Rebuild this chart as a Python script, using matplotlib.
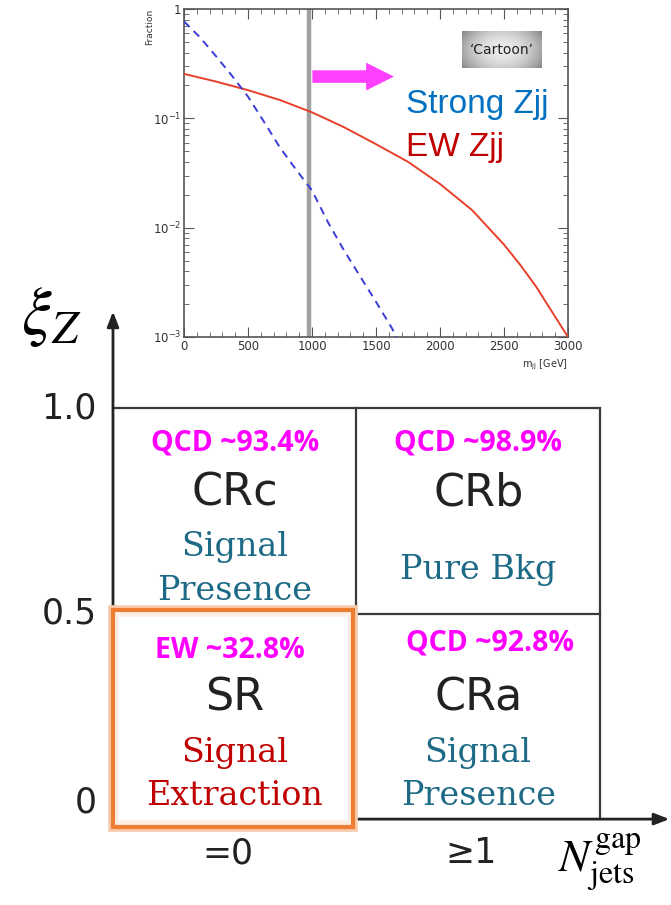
import numpy as np
import matplotlib
matplotlib.use("Agg")
import matplotlib.pyplot as plt
from matplotlib.patches import Rectangle

# inset "cartoon": fraction vs m_jj
m_ew = [0, 250, 500, 750, 1000, 1250, 1500, 1750, 2000, 2250, 2500, 2625, 2750, 2875, 3000]
frac_ew = [0.255, 0.217, 0.181, 0.147, 0.1135, 0.083, 0.058, 0.040, 0.0251, 0.0145, 0.0070,
           0.0046, 0.0029, 0.0017, 0.001]
m_qcd = [0, 125, 250, 375, 500, 625, 750, 875, 1000, 1125, 1250, 1375, 1500, 1625, 1660]
frac_qcd = [0.77, 0.55, 0.37, 0.245, 0.158, 0.093, 0.054, 0.034, 0.0219, 0.0112, 0.0062, 0.0036,
            0.0021, 0.0012, 0.001]
mjj_cut = 978
x_ticks = [0, 500, 1000, 1500, 2000, 2500, 3000]
y_ticks = [1e-3, 1e-2, 1e-1, 1]
y_tick_labels = [r'$\mathregular{10^{-3}}$', r'$\mathregular{10^{-2}}$', r'$\mathregular{10^{-1}}$', '1']

# region diagram
xi_ticks = [0, 0.5, 1.0]
xi_tick_labels = ['0', '0.5', '1.0']
ngap_labels = ['=0', '\u22651']
regions = ['CRc', 'CRb', 'SR', 'CRa']
region_cells = [(0, 0.5), (1, 0.5), (0, 0), (1, 0)]
fractions = ['QCD ~93.4%', 'QCD ~98.9%', 'EW ~32.8%', 'QCD ~92.8%']
roles = [['Signal', 'Presence'], ['Pure Bkg'], ['Signal', 'Extraction'], ['Signal', 'Presence']]

teal = '#1d6a86'
dark_red = '#c00000'
magenta = '#ff00ff'
line_col = '#3a3a3a'

fig = plt.figure(figsize=(6.71, 9.05), dpi=100)

# ---- main diagram ----
ax = fig.add_axes([0, 0, 1, 1])
ax.set_xlim(-0.464, 2.2916)
ax.set_ylim(-0.209, 1.993)
ax.axis('off')

# axes arrows
ax.annotate('', xy=(0, 1.235), xytext=(0, -0.005),
            arrowprops=dict(arrowstyle='-|>,head_length=0.9,head_width=0.35', color='#222222', lw=2,
                            shrinkA=0, shrinkB=0), zorder=2)
ax.annotate('', xy=(2.285, 0), xytext=(0, 0),
            arrowprops=dict(arrowstyle='-|>,head_length=0.9,head_width=0.35', color='#222222', lw=2,
                            shrinkA=0, shrinkB=0), zorder=2)

# grid of regions
ax.plot([0, 2], [1, 1], color=line_col, lw=1.6, zorder=1)
ax.plot([0, 2], [0.5, 0.5], color=line_col, lw=1.6, zorder=1)
ax.plot([1, 1], [0, 1], color=line_col, lw=1.6, zorder=1)
ax.plot([2, 2], [0, 1], color=line_col, lw=1.6, zorder=1)

# highlight box around SR
ax.add_patch(Rectangle((0, -0.019), 0.986, 0.528, facecolor='white', edgecolor='#f8cbad', lw=7, zorder=3))
ax.add_patch(Rectangle((0.01, -0.01), 0.966, 0.51, facecolor='none', edgecolor='#fdeee4', lw=4, zorder=3))
ax.add_patch(Rectangle((0, -0.019), 0.986, 0.528, facecolor='none', edgecolor='#ed7d31', lw=3, zorder=3))

# region texts
frac_dx = [0.0, 0.0, -0.02, 0.05]
frac_dy = [0.415, 0.415, 0.411, 0.428]
for i, name in enumerate(regions):
    cx, cy = region_cells[i]
    z = 4 if name == 'SR' else 2
    ax.text(cx + 0.5 + frac_dx[i], cy + frac_dy[i], fractions[i], color=magenta, fontsize=20.5,
            family='Open Sans', weight='bold', ha='center', va='center', zorder=z)
    ax.text(cx + 0.5, cy + 0.294, name, color='#222222', fontsize=32, family='DejaVu Sans',
            ha='center', va='center', zorder=z)
    col = dark_red if name == 'SR' else teal
    if len(roles[i]) == 1:
        ax.text(cx + 0.5, cy + 0.106, roles[i][0], color=col, fontsize=24, family='DejaVu Serif',
                ha='center', va='center', zorder=z)
    else:
        ax.text(cx + 0.5, cy + 0.162, roles[i][0], color=col, fontsize=24, family='DejaVu Serif',
                ha='center', va='center', zorder=z)
        ax.text(cx + 0.5, cy + 0.056, roles[i][1], color=col, fontsize=24, family='DejaVu Serif',
                ha='center', va='center', zorder=z)

# tick labels
for v, lab in zip(xi_ticks, xi_tick_labels):
    yy = 0.04 if v == 0 else v
    ax.text(-0.068, yy, lab, fontsize=25, color='#222222', ha='right', va='center', zorder=2)
for j, lab in enumerate(ngap_labels):
    ax.text(j + 0.47, -0.083, lab, fontsize=25, color='#222222', ha='center', va='center', zorder=2)

ax.text(-0.255, 1.225, r'$\xi_Z$', fontsize=48, math_fontfamily='stix', ha='center', va='center')
ax.text(2.0, -0.105, r'$N^{\rm gap}_{\rm jets}$', fontsize=33, math_fontfamily='stix',
        ha='center', va='center')

# ---- inset ----
ins = fig.add_axes([184 / 671, 1 - 337 / 905, 384 / 671, 328 / 905])
ins.set_facecolor('white')
ins.set_yscale('log')
ins.set_xlim(0, 3000)
ins.set_ylim(1e-3, 1)
ins.plot(m_ew, frac_ew, color='#e8402a', lw=1.4, zorder=3)
ins.plot(m_qcd, frac_qcd, color='#3b3bd8', lw=1.4, ls=(0, (4, 3)), zorder=3)
ins.axvline(mjj_cut, color='#a0a0a0', lw=3.2, zorder=2)

ins.annotate('', xy=(1640, 0.241), xytext=(mjj_cut + 25, 0.241),
             arrowprops=dict(arrowstyle='simple,head_length=1.0,head_width=1.0,tail_width=0.45',
                             color='#ff40ff', lw=0, mutation_scale=20, shrinkA=0, shrinkB=0), zorder=4)

# 'Cartoon' label with grey gradient
gx, gy = np.meshgrid(np.linspace(-1, 1, 60), np.linspace(-1, 1, 30))
grad = 0.92 - 0.27 * (gx ** 2) - 0.12 * (gy ** 2)
ins.imshow(grad, cmap='gray', vmin=0, vmax=1, extent=[0.725, 0.933, 0.82, 0.93],
           transform=ins.transAxes, aspect='auto', zorder=4)
ins.text(0.829, 0.875, "\u2018Cartoon\u2019", transform=ins.transAxes, fontsize=10, color='#222222',
         ha='center', va='center', zorder=5)

ins.text(0.578, 0.71, 'Strong Zjj', transform=ins.transAxes, color='#0070c0', fontsize=24,
         family='Liberation Sans', ha='left', va='center', zorder=5)
ins.text(0.578, 0.578, 'EW Zjj', transform=ins.transAxes, color=dark_red, fontsize=24,
         family='Liberation Sans', ha='left', va='center', zorder=5)

ins.set_xticks(x_ticks)
ins.set_xticks(np.arange(0, 3001, 100), minor=True)
ins.set_yticks(y_ticks)
ins.set_yticklabels(y_tick_labels)
ins.tick_params(which='both', direction='in', top=True, right=True, colors='#555555',
                labelcolor='#333333', labelsize=8.5, pad=2)
ins.tick_params(which='major', length=7)
ins.tick_params(which='minor', length=3.5)
for s in ins.spines.values():
    s.set_color('#555555')
    s.set_linewidth(1.2)
ins.text(-0.09, 1.0, 'Fraction', rotation=90, transform=ins.transAxes, fontsize=6.5,
         ha='center', va='top', color='#333333')
ins.text(1.0, -0.085, r'm$_{\mathregular{jj}}$ [GeV]', transform=ins.transAxes, fontsize=7,
         ha='right', va='center', color='#333333')

fig.savefig('out.png', dpi=100)
